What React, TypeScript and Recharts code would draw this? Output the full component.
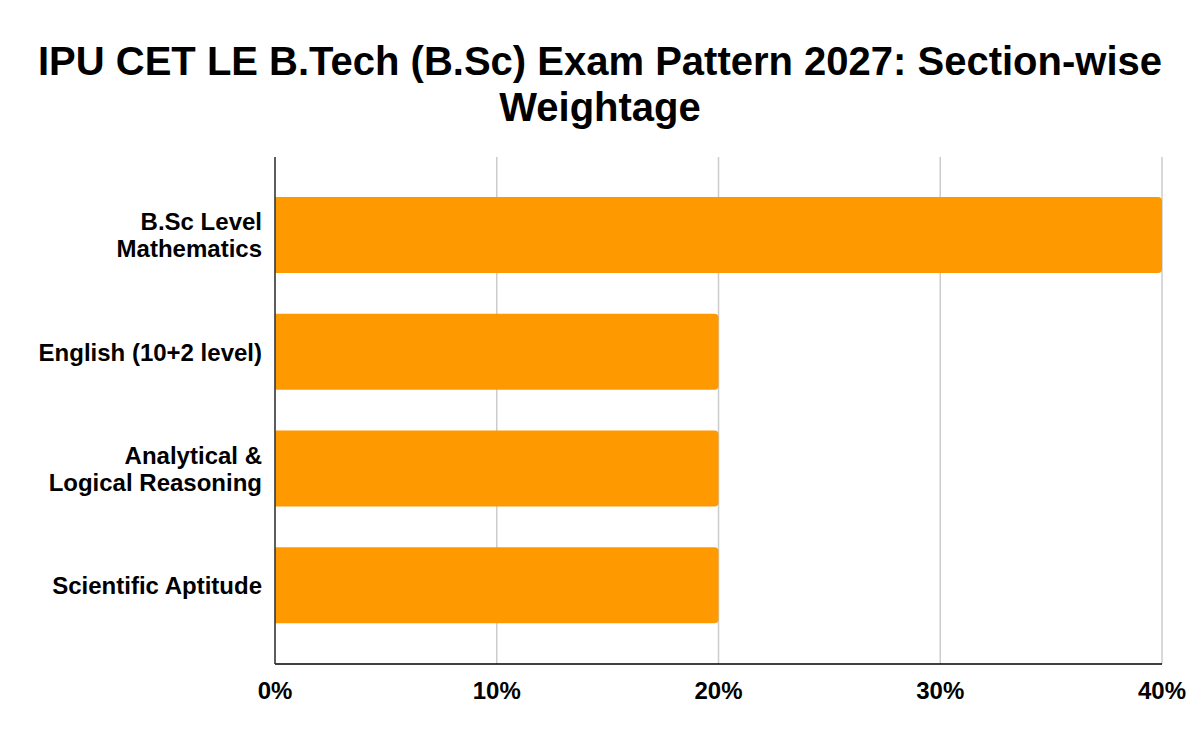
import React from "react";
import { BarChart, Bar, XAxis, YAxis, CartesianGrid } from "recharts";

const categories = [
  "B.Sc Level\nMathematics",
  "English (10+2 level)",
  "Analytical &\nLogical Reasoning",
  "Scientific Aptitude",
];
const weightage = [40, 20, 20, 20];
const xTicks = [0, 10, 20, 30, 40];
const titleLines = [
  "IPU CET LE B.Tech (B.Sc) Exam Pattern 2027: Section-wise",
  "Weightage",
];

const data = categories.map((c, i) => ({ name: c, value: weightage[i] }));

const FONT = "'Liberation Sans', Arial, sans-serif";

const YTick = (props: any) => {
  const { x, y, payload } = props;
  const lines = String(payload.value).split("\n");
  const lh = 27;
  const first = y - ((lines.length - 1) * lh) / 2 + 8.5;
  return (
    <text
      x={x}
      y={first}
      textAnchor="end"
      fontFamily={FONT}
      fontWeight="bold"
      fontSize={24}
      fill="#000"
    >
      {lines.map((l, i) => (
        <tspan key={i} x={x} y={first + i * lh}>
          {l}
        </tspan>
      ))}
    </text>
  );
};

export default function App() {
  return (
    <div
      style={{
        position: "absolute",
        left: 0,
        top: 0,
        width: 1200,
        height: 742,
        background: "#fff",
        fontFamily: FONT,
      }}
    >
      <svg
        width={1200}
        height={140}
        style={{ position: "absolute", left: 0, top: 0 }}
      >
        {titleLines.map((t, i) => (
          <text
            key={i}
            x={600}
            y={75 + i * 46}
            textAnchor="middle"
            fontFamily={FONT}
            fontWeight="bold"
            fontSize={40}
            fill="#000"
          >
            {t}
          </text>
        ))}
      </svg>
      <div style={{ position: "absolute", left: 0, top: 0 }}>
        <BarChart
          width={1200}
          height={742}
          data={data}
          layout="vertical"
          margin={{ top: 157, right: 38, bottom: 0, left: 0 }}
        >
          <CartesianGrid
            horizontal={false}
            vertical={true}
            stroke="#cccccc"
            strokeWidth={1.5}
          />
          <XAxis
            type="number"
            domain={[0, 40]}
            ticks={xTicks}
            tickFormatter={(v: number) => `${v}%`}
            axisLine={{ stroke: "#000", strokeWidth: 1.5 }}
            tickLine={false}
            tickSize={0}
            tickMargin={18}
            height={78}
            tick={{
              fontFamily: FONT,
              fontWeight: "bold",
              fontSize: 24,
              fill: "#000",
            }}
            interval={0}
          />
          <YAxis
            type="category"
            dataKey="name"
            width={275}
            axisLine={{ stroke: "#333", strokeWidth: 1.5 }}
            tickLine={false}
            tickSize={0}
            tickMargin={13}
            padding={{ top: 20, bottom: 20 }}
            tick={<YTick />}
            interval={0}
          />
          <Bar
            dataKey="value"
            fill="#ff9900"
            barSize={76}
            radius={[0, 4, 4, 0]}
            isAnimationActive={false}
          />
        </BarChart>
      </div>
    </div>
  );
}
